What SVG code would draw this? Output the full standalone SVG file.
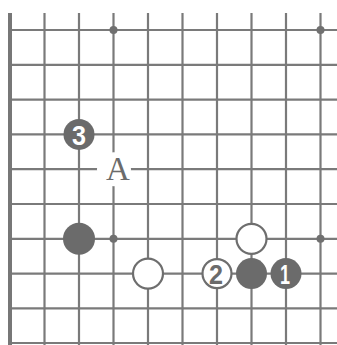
<svg xmlns="http://www.w3.org/2000/svg" width="337" height="345" viewBox="0 0 337 345">
<style>
.h{stroke:#7a7a7a;stroke-width:2.2}
.v{stroke:#7a7a7a;stroke-width:2.2}
.edge{stroke:#777;stroke-width:4}
.star{fill:#707070}
.b{fill:#6b6b6b}
.w{fill:#fff;stroke:#6e6e6e;stroke-width:2.2}
.nb{fill:#fff;font-family:"Liberation Sans",Arial,sans-serif;font-weight:bold;font-size:28px;text-anchor:middle}
.nw{fill:#6b6b6b;font-family:"Liberation Sans",Arial,sans-serif;font-weight:bold;font-size:28px;text-anchor:middle}
.lbl{fill:#6b6b6b;font-family:"Liberation Serif","Times New Roman",serif;font-size:33px;text-anchor:middle}
</style>
<rect width="337" height="345" fill="#fff"/>
<g id="grid">
<line class="h" x1="10" y1="30" x2="337" y2="30"/>
<line class="h" x1="10" y1="64.8" x2="337" y2="64.8"/>
<line class="h" x1="10" y1="99.6" x2="337" y2="99.6"/>
<line class="h" x1="10" y1="134.4" x2="337" y2="134.4"/>
<line class="h" x1="10" y1="169.2" x2="337" y2="169.2"/>
<line class="h" x1="10" y1="204" x2="337" y2="204"/>
<line class="h" x1="10" y1="238.8" x2="337" y2="238.8"/>
<line class="h" x1="10" y1="273.6" x2="337" y2="273.6"/>
<line class="h" x1="10" y1="308.4" x2="337" y2="308.4"/>
<line class="h" x1="10" y1="343" x2="337" y2="343"/>
<line class="v" x1="44.5" y1="13" x2="44.5" y2="345"/>
<line class="v" x1="79" y1="13" x2="79" y2="345"/>
<line class="v" x1="113.5" y1="13" x2="113.5" y2="345"/>
<line class="v" x1="148" y1="13" x2="148" y2="345"/>
<line class="v" x1="182.5" y1="13" x2="182.5" y2="345"/>
<line class="v" x1="217" y1="13" x2="217" y2="345"/>
<line class="v" x1="251.5" y1="13" x2="251.5" y2="345"/>
<line class="v" x1="286" y1="13" x2="286" y2="345"/>
<line class="v" x1="320.5" y1="13" x2="320.5" y2="345"/>
<line class="edge" x1="10" y1="13" x2="10" y2="345"/>
</g>
<g id="stars">
<circle class="star" cx="113.5" cy="30" r="4"/>
<circle class="star" cx="320.5" cy="30" r="4"/>
<circle class="star" cx="113.5" cy="238.8" r="4"/>
<circle class="star" cx="320.5" cy="238.8" r="4"/>
</g>
<g id="b3">
<circle class="b" cx="79" cy="134.4" r="15.5"/>
<text class="nb" x="79" y="144.5" textLength="14" lengthAdjust="spacingAndGlyphs">3</text>
</g>
<g id="labelA">
<circle cx="114" cy="169.2" r="17" fill="#fff"/>
<text class="lbl" x="118" y="180">A</text>
</g>
<g id="b-left">
<circle class="b" cx="79" cy="238.8" r="16"/>
</g>
<g id="w-left">
<circle class="w" cx="148" cy="273.6" r="15"/>
</g>
<g id="w-top">
<circle class="w" cx="251.5" cy="238.8" r="15"/>
</g>
<g id="w2">
<circle class="w" cx="217" cy="273.6" r="14.5"/>
<text class="nw" x="216" y="284" textLength="14" lengthAdjust="spacingAndGlyphs">2</text>
</g>
<g id="b-mid">
<circle class="b" cx="251.5" cy="273.6" r="15.5"/>
</g>
<g id="b1">
<circle class="b" cx="286" cy="273.6" r="15.5"/>
<text class="nb" x="285" y="284" textLength="10" lengthAdjust="spacingAndGlyphs">1</text>
</g>
</svg>
